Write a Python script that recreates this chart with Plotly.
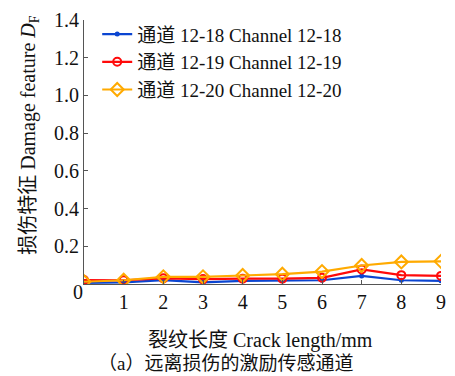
import plotly.graph_objects as go

# Crack length (mm) and damage feature per excitation-sensing channel
crack_length = [0, 1, 2, 3, 4, 5, 6, 7, 8, 9]
ch_12_18 = [0.006, 0.009, 0.021, 0.009, 0.017, 0.017, 0.020, 0.043, 0.020, 0.017]
ch_12_19 = [0.021, 0.020, 0.030, 0.026, 0.028, 0.028, 0.033, 0.077, 0.047, 0.043]
ch_12_20 = [0.012, 0.020, 0.038, 0.038, 0.045, 0.052, 0.066, 0.098, 0.117, 0.120]

names = [
    "通道 12-18 Channel 12-18",
    "通道 12-19 Channel 12-19",
    "通道 12-20 Channel 12-20",
]
y_ticks = [0.2, 0.4, 0.6, 0.8, 1.0, 1.2, 1.4]
x_ticks = [1, 2, 3, 4, 5, 6, 7, 8, 9]

FONT = "Liberation Serif, Times New Roman, Noto Sans CJK SC, serif"
FS = 20

fig = go.Figure()
fig.add_trace(go.Scatter(
    x=crack_length, y=ch_12_18, name=names[0], mode="lines+markers",
    line=dict(color="#0b45d1", width=2.2),
    marker=dict(symbol="circle", size=5, color="#0b45d1"),
))
fig.add_trace(go.Scatter(
    x=crack_length, y=ch_12_19, name=names[1], mode="lines+markers",
    line=dict(color="#ff0a0a", width=2.2),
    marker=dict(symbol="circle-open", size=8, color="#ff0a0a", line=dict(width=2)),
))
fig.add_trace(go.Scatter(
    x=crack_length, y=ch_12_20, name=names[2], mode="lines+markers",
    line=dict(color="#ffaa00", width=2.2),
    marker=dict(symbol="diamond-open", size=10, color="#ffaa00", line=dict(width=2)),
))

axis_common = dict(
    showline=True, linecolor="#555555", linewidth=1.2,
    ticks="inside", ticklen=4, tickcolor="#555555",
    showgrid=False, zeroline=False,
    tickfont=dict(family=FONT, size=FS, color="#111111"),
)

fig.update_layout(
    width=455, height=376,
    margin=dict(l=84, r=9, t=17, b=92),
    paper_bgcolor="white", plot_bgcolor="white",
    font=dict(family=FONT, size=FS, color="#111111"),
    xaxis=dict(range=[0, 9], tickvals=x_ticks, **axis_common),
    yaxis=dict(range=[0, 1.4], tickvals=y_ticks,
               ticktext=[f"{v:.1f}" for v in y_ticks], **axis_common),
    showlegend=True,
    legend=dict(
        x=0.037, y=1.018, xanchor="left", yanchor="top",
        bgcolor="rgba(0,0,0,0)", borderwidth=0,
        font=dict(family=FONT, size=19, color="#111111"),
        tracegroupgap=0, itemwidth=30,
    ),
    annotations=[
        dict(text="0", xref="paper", yref="paper", x=-0.036, y=-0.032,
             yanchor="middle", showarrow=False, font=dict(family=FONT, size=FS)),
        dict(text="损伤特征 Damage feature <i>D</i><sub>F</sub>",
             xref="paper", yref="paper", x=-0.194, y=0.566, textangle=-90,
             showarrow=False, font=dict(family=FONT, size=FS)),
        dict(text="裂纹长度 Crack length/mm", xref="paper", yref="paper",
             x=0.495, y=-0.215, yanchor="middle", showarrow=False,
             font=dict(family=FONT, size=FS)),
        dict(text="（a）远离损伤的激励传感通道", xref="paper", yref="paper",
             x=0.395, y=-0.3, yanchor="middle", showarrow=False,
             font=dict(family=FONT, size=19)),
    ],
)

fig.write_html("out.html")
